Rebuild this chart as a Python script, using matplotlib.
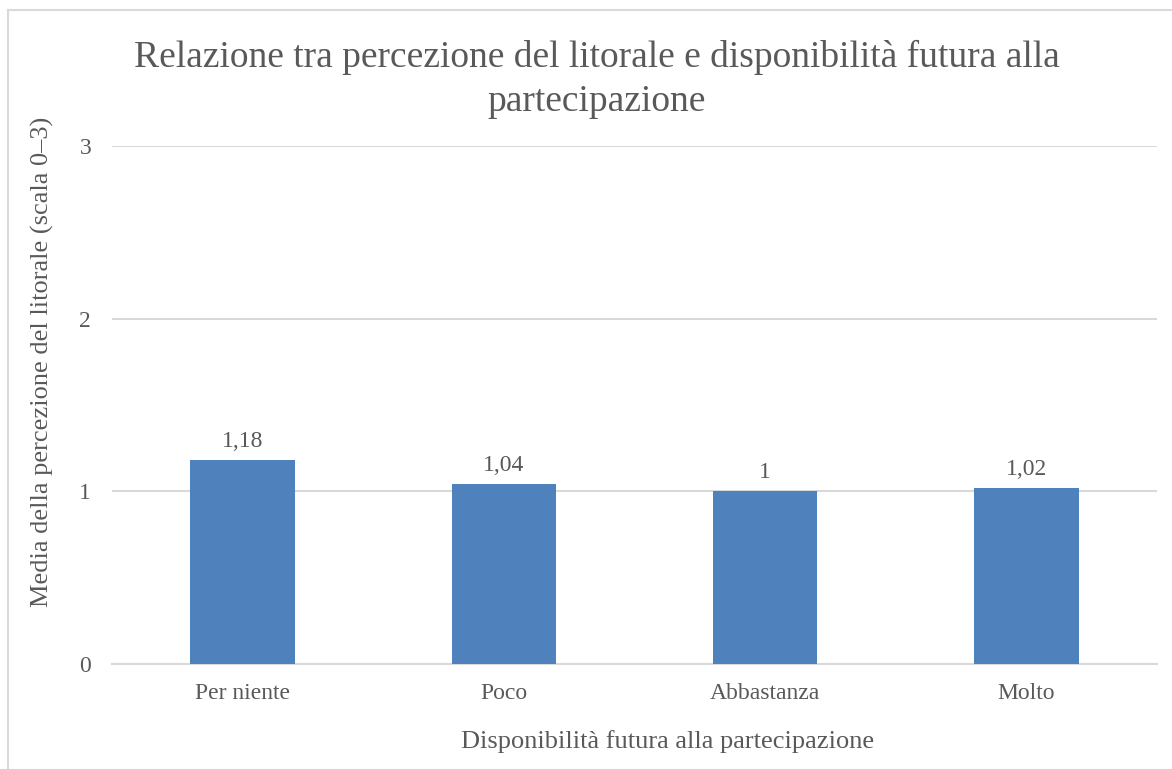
import matplotlib
matplotlib.use("Agg")
import matplotlib.pyplot as plt
from matplotlib.lines import Line2D

# Data
categories = ["Per niente", "Poco", "Abbastanza", "Molto"]
values = [1.18, 1.04, 1.00, 1.02]
value_labels = ["1,18", "1,04", "1", "1,02"]
yticks = [0, 1, 2, 3]

plt.rcParams['font.family'] = ['Liberation Serif', 'DejaVu Serif']
text_col = '#595959'
grid_col = '#D9D9D9'
bar_col = '#4F81BD'

fig = plt.figure(figsize=(11.72, 7.69), dpi=100)
ax = fig.add_axes([0.0956, 0.1365, 0.8916, 0.6736])

x = list(range(len(categories)))
bars = ax.bar(x, values, width=0.4, color=bar_col, zorder=3)
for b, lab in zip(bars, value_labels):
    ax.annotate(lab, (b.get_x() + b.get_width() / 2, b.get_height()),
                xytext=(0, 8), textcoords='offset pixels',
                ha='center', va='bottom', fontsize=17, color=text_col)

ax.set_xlim(-0.5, len(categories) - 0.5)
ax.set_ylim(0, 3)
ax.set_yticks(yticks)
ax.set_yticklabels([str(t) for t in yticks])
ax.set_xticks(x)
ax.set_xticklabels(categories)
ax.tick_params(axis='both', length=0, labelsize=17, labelcolor=text_col)
ax.tick_params(axis='y', pad=15)
ax.tick_params(axis='x', pad=14)
ax.yaxis.grid(True, color=grid_col, linewidth=1.5, zorder=0)
for s in ['top', 'right', 'left']:
    ax.spines[s].set_visible(False)
ax.spines['bottom'].set_color(grid_col)
ax.spines['bottom'].set_linewidth(1.5)

ax.set_xlabel("Disponibilità futura alla partecipazione", fontsize=19, color=text_col)
ax.set_ylabel("Media della percezione del litorale (scala 0–3)", fontsize=19, color=text_col)
ax.xaxis.set_label_coords(0.532, -0.15)
ax.xaxis.label.set_va('center')
ax.yaxis.set_label_coords(-0.067, 0.583)
ax.yaxis.label.set_va('center')

fig.text(0.509, 0.948,
         "Relazione tra percezione del litorale e disponibilità futura alla\npartecipazione",
         ha='center', va='top', fontsize=27, color=text_col, linespacing=1.36)

# chart area border (top and left visible)
fig.add_artist(Line2D([8 / 1172, 8 / 1172], [0, 1 - 10 / 769], transform=fig.transFigure,
                      color=grid_col, linewidth=1.5))
fig.add_artist(Line2D([8 / 1172, 1], [1 - 10 / 769, 1 - 10 / 769], transform=fig.transFigure,
                      color=grid_col, linewidth=1.5))

fig.savefig("out.png", dpi=100, facecolor='white')
